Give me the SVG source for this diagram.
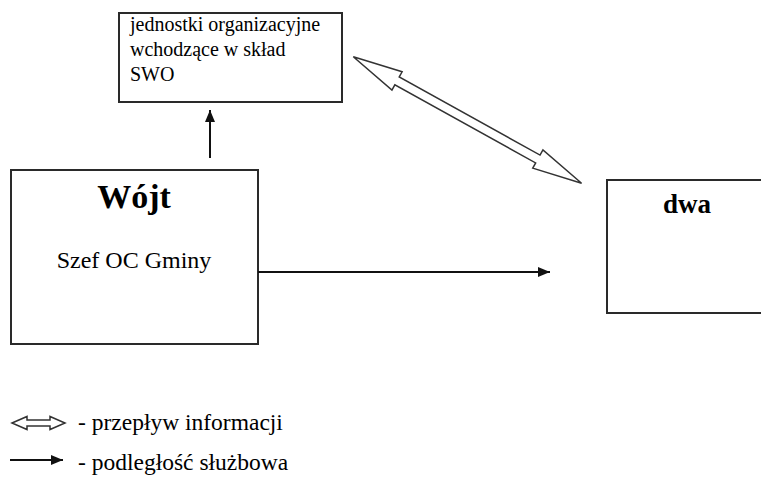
<svg xmlns="http://www.w3.org/2000/svg" width="761" height="479" viewBox="0 0 761 479">
<style>
.box{fill:#fff;stroke:#2a2a2a;stroke-width:2}
text{font-family:'Liberation Serif','DejaVu Serif','Times New Roman',serif;fill:#000}
.b{font-weight:bold}
.line{stroke:#111;stroke-width:2;fill:none}
.dbl{fill:#fff;stroke:#333;stroke-width:1.5;stroke-linejoin:miter}
</style>
<defs>
<marker id="ah" viewBox="0 0 12 10" refX="12" refY="5" markerWidth="12" markerHeight="10" markerUnits="userSpaceOnUse" orient="auto">
<path d="M0,0 L12,5 L0,10 Z" fill="#111"/>
</marker>
</defs>
<g id="swo" font-family="Liberation Serif, DejaVu Serif, serif">
<rect class="box" x="119" y="13" width="223" height="89"/>
<text font-family="Liberation Serif, DejaVu Serif, serif" font-size="20" x="130" y="31">jednostki organizacyjne</text>
<text font-family="Liberation Serif, DejaVu Serif, serif" font-size="20" x="130" y="56">wchodzące w skład</text>
<text font-family="Liberation Serif, DejaVu Serif, serif" font-size="20" x="130" y="81">SWO</text>
</g>
<g id="wojt">
<rect class="box" x="11" y="170" width="247" height="174"/>
<text class="b" font-family="Liberation Serif, DejaVu Serif, serif" font-size="34" x="134" y="208" text-anchor="middle">Wójt</text>
<text font-family="Liberation Serif, DejaVu Serif, serif" font-size="24" x="134" y="268" text-anchor="middle">Szef OC Gminy</text>
</g>
<g id="dwa">
<rect class="box" x="607" y="180" width="160" height="133"/>
<text class="b" font-family="Liberation Serif, DejaVu Serif, serif" font-size="27" x="687" y="213" text-anchor="middle">dwa</text>
</g>
<g id="connectors">
<line class="line" x1="210" y1="158" x2="210" y2="110" marker-end="url(#ah)"/>
<line class="line" x1="258" y1="272" x2="550" y2="272" marker-end="url(#ah)"/>
<polygon class="dbl" transform="translate(353.3,56.7) rotate(29)" points="0,0 50,-10.5 50,-4.5 211,-4.5 211,-10.5 261,0 211,10.5 211,4.5 50,4.5 50,10.5"/>
</g>
<g id="legend">
<polygon class="dbl" points="12,423 27,416.5 27,420 50,420 50,416.5 65,423 50,429.5 50,426 27,426 27,429.5"/>
<text font-family="Liberation Serif, DejaVu Serif, serif" font-size="23.5" x="78" y="430">- przepływ informacji</text>
<line class="line" x1="10" y1="460" x2="63" y2="460" marker-end="url(#ah)"/>
<text font-family="Liberation Serif, DejaVu Serif, serif" font-size="23.5" x="78" y="470">- podległość służbowa</text>
</g>
</svg>
